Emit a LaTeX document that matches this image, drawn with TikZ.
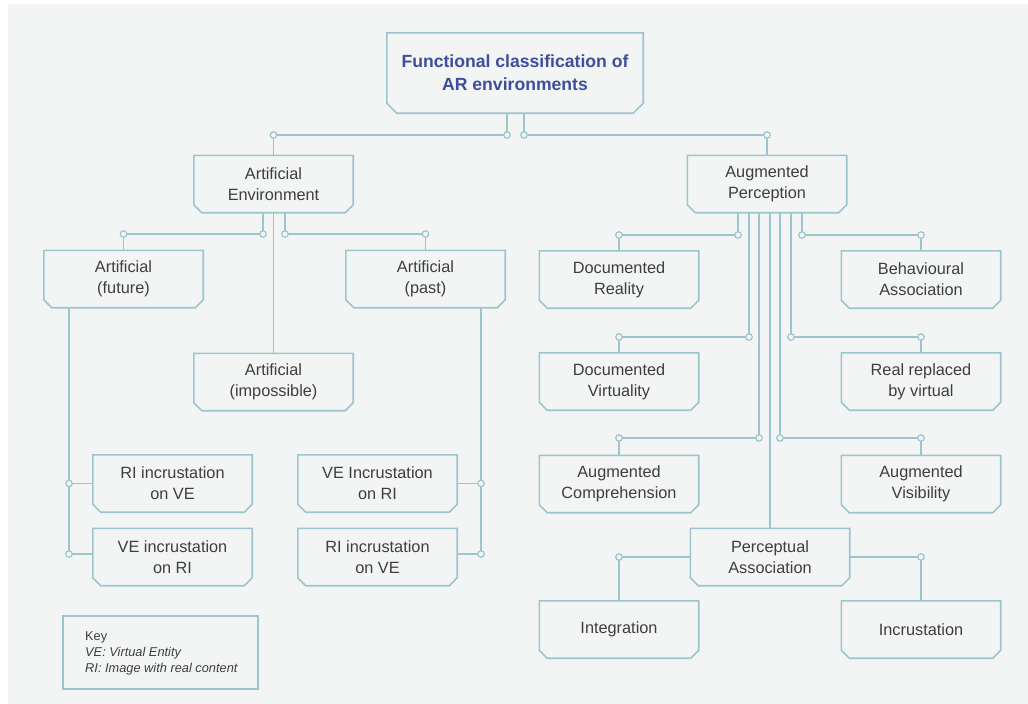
\documentclass[tikz,border=0pt]{standalone}
\usepackage{fontspec}
\setmainfont{Liberation Sans}
\definecolor{bg}{HTML}{F3F4F4}
\definecolor{lc}{HTML}{9CC6CD}
\definecolor{tc}{HTML}{3E3E40}
\definecolor{titlec}{HTML}{3D4F9C}
\tikzset{
  box/.style={draw=none, minimum width=159pt, minimum height=57pt, inner sep=0pt,
    align=center, text=tc, font=\fontsize{16.3}{21}\selectfont},
  outline/.style={draw=lc, line width=1.6pt, line join=miter},
  conn/.style={draw=lc, line width=1.6pt},
  dot/.style={circle, draw=lc, fill=bg, line width=1.2pt, inner sep=0pt, minimum size=6.5pt},
}
\newcommand{\chamf}[2][8pt]{%
  \draw[outline] (#2.north west) -- (#2.north east) -- ([yshift=#1]#2.south east)
    -- ([xshift=-#1]#2.south east) -- ([xshift=#1]#2.south west)
    -- ([yshift=#1]#2.south west) -- cycle;}
\begin{document}
\begin{tikzpicture}[x=1pt,y=-1pt]
\useasboundingbox (0,0) rectangle (1028,704);
\fill[white] (0,0) rectangle (1028,704);
\fill[bg] (8,4) rectangle (1028,704);

% nodes
\node[box, minimum width=256pt, minimum height=80pt, text=titlec,
      font=\fontsize{17.6}{23}\bfseries\selectfont] (top) at (515,73)
      {Functional classification of\\AR environments};
\node[box] (AE) at (273.5,184) {Artificial\\Environment};
\node[box] (AP) at (767,184) {Augmented\\Perception};
\node[box] (Afut) at (123.5,279) {Artificial\\(future)};
\node[box] (Apast) at (425.5,279) {Artificial\\(past)};
\node[box] (Aimp) at (273.5,382) {Artificial\\(impossible)};
\node[box] (RIVEa) at (172.5,483.5) {RI incrustation\\on VE};
\node[box] (VERIa) at (172.5,557) {VE incrustation\\on RI};
\node[box] (VERIb) at (377.5,483.5) {VE Incrustation\\on RI};
\node[box] (RIVEb) at (377.5,557) {RI incrustation\\on VE};
\node[box] (DR) at (619,279.5) {Documented\\Reality};
\node[box] (DV) at (619,381.5) {Documented\\Virtuality};
\node[box] (AC) at (619,484) {Augmented\\Comprehension};
\node[box] (BA) at (921,279.5) {Behavioural\\Association};
\node[box] (RR) at (921,381.5) {Real replaced\\by virtual};
\node[box] (AV) at (921,484) {Augmented\\Visibility};
\node[box] (PA) at (770,557) {Perceptual\\Association};
\node[box] (Int) at (619,629.5) {Integration};
\node[box] (Inc) at (921,629.5) {Incrustation};

\chamf[10pt]{top}
\foreach \n in {AE,AP,Afut,Apast,Aimp,RIVEa,VERIa,VERIb,RIVEb,DR,DV,AC,BA,RR,AV,PA,Int,Inc}{\chamf{\n}}

% key
\node[draw=lc, line width=1.2pt, minimum width=195pt, minimum height=73pt, inner sep=0pt] (key) at (160.5,652.5) {};
\node[anchor=west, align=left, text=tc, font=\fontsize{12.8}{16}\selectfont, inner sep=0pt] (keytext) at (85,653)
  {Key\\\textit{VE: Virtual Entity}\\\textit{RI: Image with real content}};

% dot coordinates
\coordinate (c1) at (507,135);  \coordinate (c2) at (273.5,135);
\coordinate (c3) at (524,135);  \coordinate (c4) at (767,135);
\coordinate (c5) at (263,234);  \coordinate (c6) at (123.5,234);
\coordinate (c7) at (285,234);  \coordinate (c8) at (425.5,234);
\coordinate (c9) at (69,483.5); \coordinate (c10) at (69,554);
\coordinate (c11) at (481,483.5); \coordinate (c12) at (481,554);
\coordinate (e1) at (738,235);  \coordinate (e2) at (619,235);
\coordinate (e3) at (749,337);  \coordinate (e4) at (619,337);
\coordinate (e5) at (759,438);  \coordinate (e6) at (619,438);
\coordinate (e7) at (780,438);  \coordinate (e8) at (921,438);
\coordinate (e9) at (791,337);  \coordinate (e10) at (921,337);
\coordinate (e11) at (802,235); \coordinate (e12) at (921,235);
\coordinate (f1) at (619,557);  \coordinate (f2) at (921,557);

% connectors
\draw[conn] (top.south -| c1) -- (c1) -- (c2) -- (AE.north);
\draw[conn] (top.south -| c3) -- (c3) -- (c4) -- (AP.north);
\draw[conn] (AE.south -| c5) -- (c5) -- (c6) -- (Afut.north);
\draw[conn] (AE.south -| Aimp.north) -- (Aimp.north);
\draw[conn] (AE.south -| c7) -- (c7) -- (c8) -- (Apast.north);
\draw[conn] (Afut.south -| c9) -- (c10);
\draw[conn] (c9) -- (c9 -| RIVEa.west);
\draw[conn] (c10) -- (c10 -| VERIa.west);
\draw[conn] (Apast.south -| c11) -- (c12);
\draw[conn] (c11) -- (c11 -| VERIb.east);
\draw[conn] (c12) -- (c12 -| RIVEb.east);
\draw[conn] (AP.south -| e1) -- (e1) -- (e2) -- (DR.north);
\draw[conn] (AP.south -| e3) -- (e3) -- (e4) -- (DV.north);
\draw[conn] (AP.south -| e5) -- (e5) -- (e6) -- (AC.north);
\draw[conn] (AP.south -| PA.north) -- (PA.north);
\draw[conn] (AP.south -| e7) -- (e7) -- (e8) -- (AV.north);
\draw[conn] (AP.south -| e9) -- (e9) -- (e10) -- (RR.north);
\draw[conn] (AP.south -| e11) -- (e11) -- (e12) -- (BA.north);
\draw[conn] (PA.west) -- (f1) -- (Int.north);
\draw[conn] (PA.east) -- (f2) -- (Inc.north);

% dots
\foreach \c in {c1,c2,c3,c4,c5,c6,c7,c8,c9,c10,c11,c12,e1,e2,e3,e4,e5,e6,e7,e8,e9,e10,e11,e12,f1,f2}
  {\node[dot] (dot\c) at (\c) {};}
\end{tikzpicture}
\end{document}
